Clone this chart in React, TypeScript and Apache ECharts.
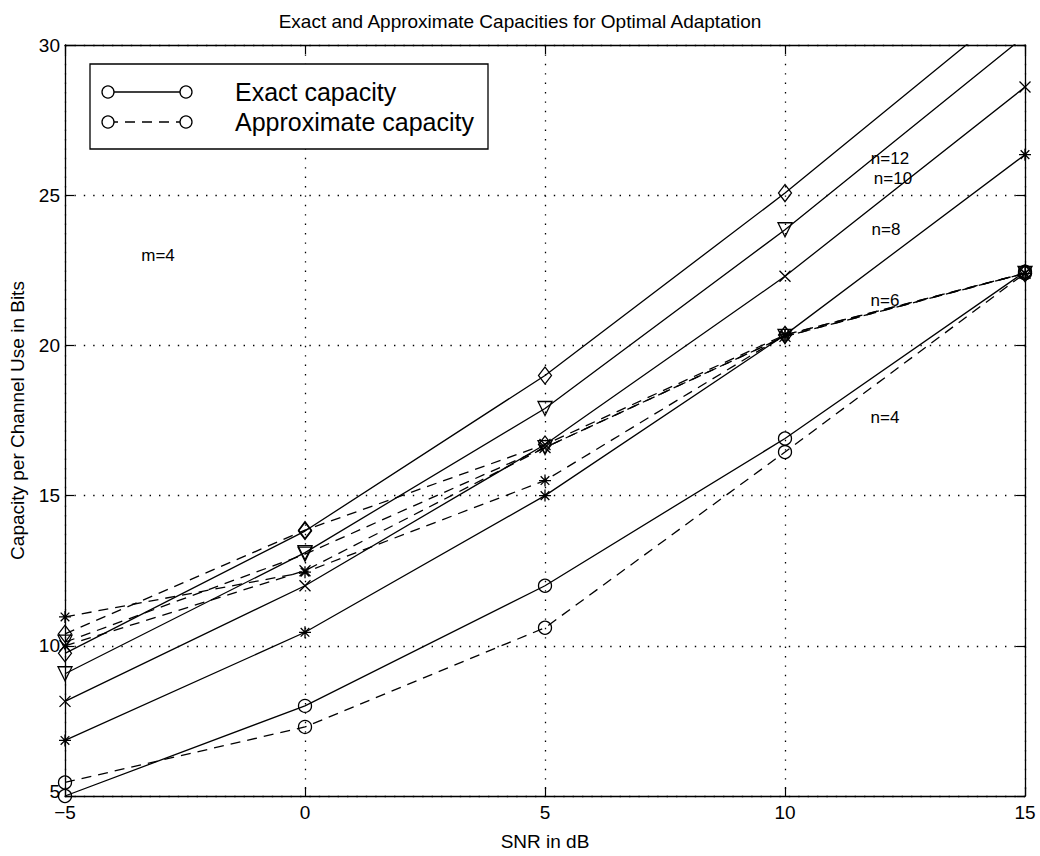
import React, { useEffect, useRef } from "react";
import * as echarts from "echarts";

const snr = [-5, 0, 5, 10, 15];
const xTicks = [-5, 0, 5, 10, 15];
const yTicks = [5, 10, 15, 20, 25, 30];

const exactN4 = [5.0, 8.0, 12.0, 16.9, 22.45];
const exactN6 = [6.85, 10.45, 15.0, 20.35, 26.35];
const exactN8 = [8.15, 12.0, 16.7, 22.3, 28.6];
const exactN10 = [9.07, 13.1, 17.9, 23.85, 30.3];
const exactN12 = [9.75, 13.82, 19.0, 25.07, 31.6];

const approxN4 = [5.45, 7.3, 10.6, 16.45, 22.4];
const approxN6 = [10.96, 12.45, 15.5, 20.35, 22.4];
const approxN8 = [10.0, 12.5, 16.6, 20.3, 22.4];
const approxN10 = [10.12, 13.05, 16.6, 20.3, 22.4];
const approxN12 = [10.4, 13.85, 16.7, 20.35, 22.4];

const curveLabels = ["n=12", "n=10", "n=8", "n=6", "n=4"];
const paramLabel = "m=4";
const legendNames = ["Exact capacity", "Approximate capacity"];

const FONT = "'Liberation Sans', Arial, Helvetica, sans-serif";

const SYM_X = "path://M0,0L10,10M10,0L0,10";
const SYM_STAR = "path://M5,0L5,10M0,5L10,5M1.4,1.4L8.6,8.6M8.6,1.4L1.4,8.6";

type Mk = { symbol: string; size: number | number[]; rotate?: number };
const MK_CIRCLE: Mk = { symbol: "circle", size: 13 };
const MK_STAR: Mk = { symbol: SYM_STAR, size: 12 };
const MK_X: Mk = { symbol: SYM_X, size: 11 };
const MK_TRI: Mk = { symbol: "triangle", size: 14, rotate: 180 };
const MK_DIA: Mk = { symbol: "diamond", size: [13, 17] };

function makeSeries(name: string, vals: number[], mk: Mk, dashed: boolean) {
  return {
    type: "line",
    name,
    xAxisIndex: 0,
    yAxisIndex: 0,
    data: vals.map((v, i) => [snr[i], v]),
    symbol: mk.symbol,
    symbolSize: mk.size,
    symbolRotate: mk.rotate || 0,
    showAllSymbol: true,
    clip: true,
    lineStyle: {
      color: "#000",
      width: 1.3,
      type: dashed ? [10, 7] : "solid",
    },
    itemStyle: {
      color: "rgba(0,0,0,0)",
      borderColor: "#000",
      borderWidth: 1.3,
    },
    emphasis: { disabled: true },
    z: 3,
  };
}

export default function App() {
  const ref = useRef<HTMLDivElement>(null);
  useEffect(() => {
    if (!ref.current) return;
    const chart = echarts.init(ref.current, undefined, { renderer: "svg" });
    const axisCommon = {
      type: "value",
      axisLine: { show: true, onZero: false, lineStyle: { color: "#000", width: 1.3 } },
      axisTick: { show: true, inside: true, length: 9, lineStyle: { color: "#000", width: 1.2 } },
    };
    const gridLine = { show: true, lineStyle: { color: "#000", width: 1.3, type: [1.4, 8] } };
    const labelStyle = { color: "#000", fontSize: 19, fontFamily: FONT };
    const fmt = (v: number) => (v < 0 ? "\u2212" + Math.abs(v) : String(v));
    const yFmt = (v: number) => (v === yTicks[0] ? `{lift|${v}}` : String(v));

    const legendX1 = 108;
    const legendX2 = 186;
    const ly1 = 92;
    const ly2 = 122;

    const graphic: any[] = [
      {
        type: "rect",
        shape: { x: 90, y: 64, width: 398, height: 85 },
        style: { fill: "#fff", stroke: "#000", lineWidth: 1.3 },
        z: 10,
      },
      {
        type: "line",
        shape: { x1: legendX1, y1: ly1, x2: legendX2, y2: ly1 },
        style: { stroke: "#000", lineWidth: 1.3 },
        z: 11,
      },
      {
        type: "line",
        shape: { x1: legendX1, y1: ly2, x2: legendX2, y2: ly2 },
        style: { stroke: "#000", lineWidth: 1.3, lineDash: [10, 7] },
        z: 11,
      },
      ...[legendX1, legendX2].flatMap((cx) =>
        [ly1, ly2].map((cy) => ({
          type: "circle",
          shape: { cx, cy, r: 6 },
          style: { fill: "#fff", stroke: "#000", lineWidth: 1.3 },
          z: 12,
        }))
      ),
      {
        type: "text",
        x: 235,
        y: ly1,
        style: { text: legendNames[0], fill: "#000", font: `25px ${FONT}`, verticalAlign: "middle" },
        z: 12,
      },
      {
        type: "text",
        x: 235,
        y: ly2,
        style: { text: legendNames[1], fill: "#000", font: `25px ${FONT}`, verticalAlign: "middle" },
        z: 12,
      },
      {
        type: "text",
        x: 158,
        y: 255,
        style: { text: paramLabel, fill: "#000", font: `17px ${FONT}`, align: "center", verticalAlign: "middle" },
        z: 12,
      },
    ];
    const labelPos = [
      [890, 158],
      [893, 178],
      [886, 229],
      [885, 300],
      [885, 417],
    ];
    curveLabels.forEach((t, i) => {
      graphic.push({
        type: "text",
        x: labelPos[i][0],
        y: labelPos[i][1],
        style: { text: t, fill: "#000", font: `17px ${FONT}`, align: "center", verticalAlign: "middle" },
        z: 12,
      });
    });

    chart.setOption({
      animation: false,
      backgroundColor: "#fff",
      title: {
        text: "Exact and Approximate Capacities for Optimal Adaptation",
        left: "center",
        top: 7,
        textStyle: { color: "#000", fontSize: 19, fontWeight: "normal", fontFamily: FONT },
      },
      grid: { left: 65, right: 15, top: 45, bottom: 58, containLabel: false },
      xAxis: [
        {
          ...axisCommon,
          position: "bottom",
          min: xTicks[0],
          max: xTicks[xTicks.length - 1],
          interval: 5,
          name: "SNR in dB",
          nameLocation: "middle",
          nameGap: 36,
          nameTextStyle: labelStyle,
          axisLabel: { ...labelStyle, margin: 7, formatter: fmt },
          splitLine: gridLine,
        },
        {
          ...axisCommon,
          position: "top",
          min: xTicks[0],
          max: xTicks[xTicks.length - 1],
          interval: 5,
          axisLabel: { show: false },
          splitLine: { show: false },
        },
      ],
      yAxis: [
        {
          ...axisCommon,
          position: "left",
          min: yTicks[0],
          max: yTicks[yTicks.length - 1],
          interval: 5,
          name: "Capacity per Channel Use in Bits",
          nameLocation: "middle",
          nameGap: 38,
          nameTextStyle: labelStyle,
          axisLabel: {
            ...labelStyle,
            margin: 5,
            formatter: yFmt,
            rich: { lift: { ...labelStyle, padding: [0, 0, 9, 0] } },
          },
          splitLine: gridLine,
        },
        {
          ...axisCommon,
          position: "right",
          min: yTicks[0],
          max: yTicks[yTicks.length - 1],
          interval: 5,
          axisLabel: { show: false },
          splitLine: { show: false },
        },
      ],
      graphic,
      series: [
        makeSeries("Exact n=4", exactN4, MK_CIRCLE, false),
        makeSeries("Exact n=6", exactN6, MK_STAR, false),
        makeSeries("Exact n=8", exactN8, MK_X, false),
        makeSeries("Exact n=10", exactN10, MK_TRI, false),
        makeSeries("Exact n=12", exactN12, MK_DIA, false),
        makeSeries("Approx n=4", approxN4, MK_CIRCLE, true),
        makeSeries("Approx n=6", approxN6, MK_STAR, true),
        makeSeries("Approx n=8", approxN8, MK_X, true),
        makeSeries("Approx n=10", approxN10, MK_TRI, true),
        makeSeries("Approx n=12", approxN12, MK_DIA, true),
      ],
    });
    return () => chart.dispose();
  }, []);
  return <div ref={ref} style={{ position: "absolute", left: 0, top: 0, width: 1040, height: 856 }} />;
}
